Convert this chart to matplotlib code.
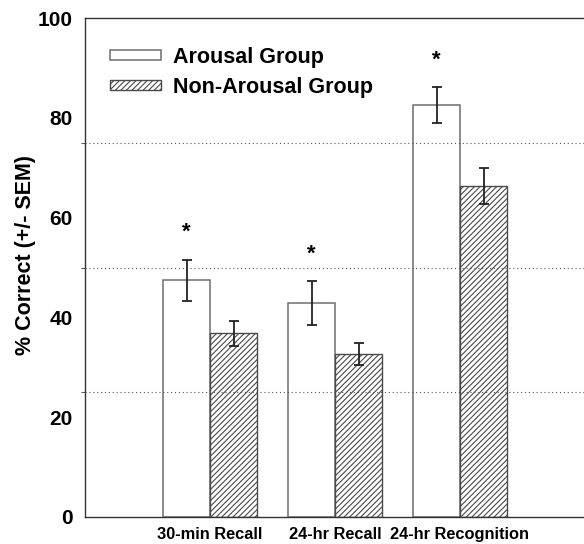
import matplotlib
matplotlib.use('Agg')
import matplotlib.pyplot as plt
import numpy as np

plt.rcParams['font.family'] = ['Liberation Sans', 'DejaVu Sans']
plt.rcParams['font.weight'] = 'bold'
plt.rcParams['hatch.linewidth'] = 0.8

categories = ['30-min Recall', '24-hr Recall', '24-hr Recognition']
arousal = [47.4, 42.9, 82.6]
arousal_sem = [4.2, 4.4, 3.6]
non_arousal = [36.8, 32.7, 66.3]
non_arousal_sem = [2.5, 2.2, 3.55]
significant = [True, True, True]

fig = plt.figure(figsize=(5.84, 5.44), dpi=100)
ax = fig.add_axes([85/584, 27/544, 500/584, 499/544])

x = np.arange(1, len(categories) + 1)
w = 0.376

ax.bar(x - w/2, arousal, w, color='white', edgecolor='#6e6e6e', linewidth=1.1,
       label='Arousal Group', zorder=2)
ax.bar(x + w/2, non_arousal, w, color='white', edgecolor='#4a4a4a', hatch='//////',
       linewidth=1.0, label='Non-Arousal Group', zorder=2)

ax.errorbar(x - w/2, arousal, yerr=arousal_sem, fmt='none', ecolor='#222222',
            elinewidth=1.3, capsize=3.6, capthick=1.3, zorder=4)
ax.errorbar(x + w/2, non_arousal, yerr=non_arousal_sem, fmt='none', ecolor='#222222',
            elinewidth=1.3, capsize=3.6, capthick=1.3, zorder=4)

for xi, m, s, sig in zip(x, arousal, arousal_sem, significant):
    if sig:
        ax.text(xi - w/2, m + s + 4.3, '*', ha='center', va='baseline',
                fontsize=16, fontweight='bold')

# dotted reference lines
for g in [25, 50, 75]:
    ax.axhline(g, color='#555555', linestyle=(0, (1, 2.5)), linewidth=0.8, zorder=3)

ax.set_xlim(0, 4)
ax.set_ylim(0, 100)
ax.set_xticks(x)
ax.set_xticklabels(categories, fontsize=11.8, fontweight='bold')
ax.set_yticks([0, 20, 40, 60, 80, 100])
ax.set_yticks([25, 50, 75], minor=True)
ax.tick_params(axis='y', which='major', length=0, labelsize=15, pad=9)
ax.tick_params(axis='y', which='minor', length=3, width=0.8, color='#555555')
ax.tick_params(axis='x', length=0, pad=7)
ax.spines['right'].set_visible(False)
for sp in ['left', 'top', 'bottom']:
    ax.spines[sp].set_color('#333333')
    ax.spines[sp].set_linewidth(1.0)

fig.text(26/584, 1 - 255/544, '% Correct (+/- SEM)', rotation=90, ha='center',
         va='center', fontsize=15.5, fontweight='bold')

ax.legend(loc='upper left', bbox_to_anchor=(110/584, 1 - 47/544),
          bbox_transform=fig.transFigure, frameon=False, fontsize=15.5,
          handlelength=2.37, handleheight=0.35, handletextpad=0.56,
          borderpad=0, borderaxespad=0, labelspacing=0.4)

fig.savefig('out.png', dpi=100)
